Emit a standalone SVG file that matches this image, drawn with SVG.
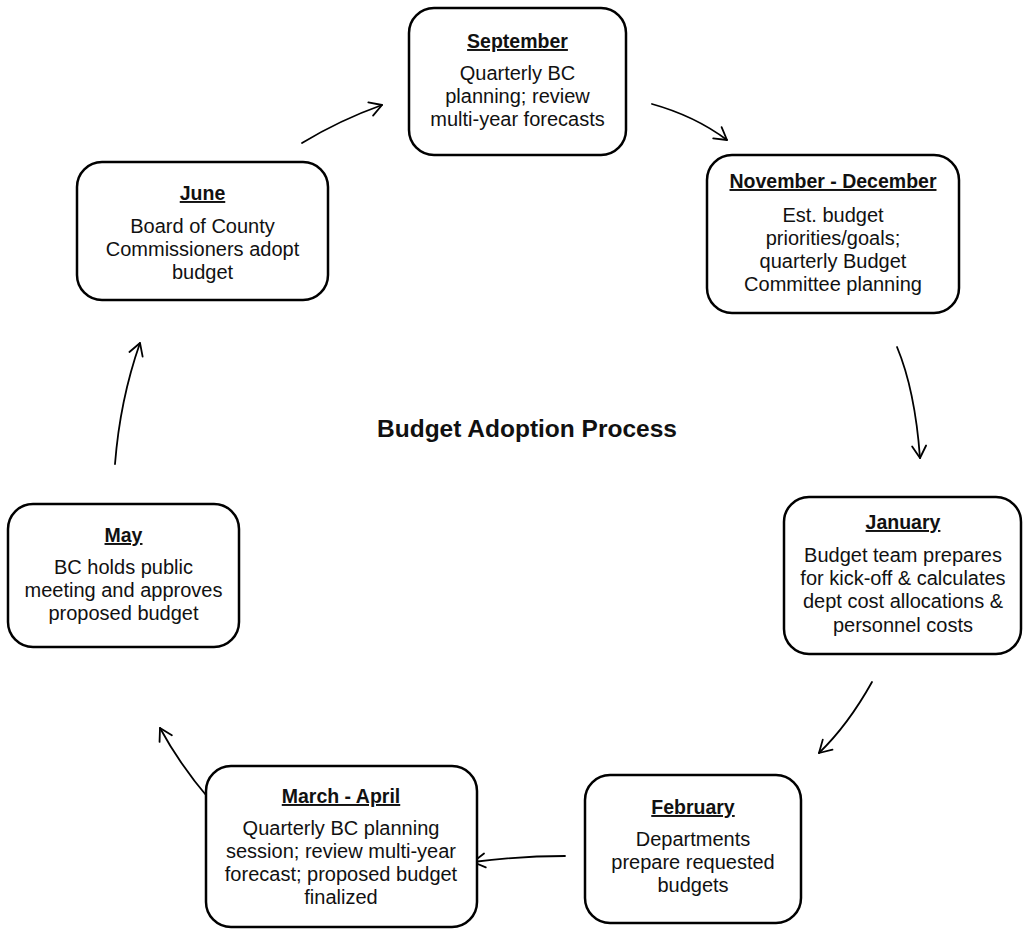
<svg xmlns="http://www.w3.org/2000/svg" width="1026" height="931" viewBox="0 0 1026 931">
<style>
.box{fill:#fff;stroke:#000;stroke-width:2.5}
.t{font-family:"Liberation Sans",Arial,sans-serif;font-size:20px;fill:#111;text-anchor:middle}
.h{font-weight:bold;font-size:19.5px;text-decoration:underline}
.title{font-family:"Liberation Sans",Arial,sans-serif;font-size:24.5px;font-weight:bold;fill:#111;text-anchor:middle}
.c{fill:none;stroke:#000;stroke-width:1.8;stroke-linecap:round}
</style>
<defs>
<marker id="ah" markerUnits="userSpaceOnUse" markerWidth="30" markerHeight="30" refX="0" refY="0" viewBox="-15 -15 30 30" orient="auto">
<path d="M-12,-7 L0,0 L-12,7" fill="none" stroke="#000" stroke-width="1.8" stroke-linecap="round" stroke-linejoin="round"/>
</marker>
</defs>
<rect width="1026" height="931" fill="#fff"/>
<text class="title" x="527" y="437">Budget Adoption Process</text>
<g id="connectors">
<path class="c" d="M302,143 Q340,120 382,105" marker-end="url(#ah)"/>
<path class="c" d="M652,104 Q695,116 727,140" marker-end="url(#ah)"/>
<path class="c" d="M897,347 Q915,390 920,458" marker-end="url(#ah)"/>
<path class="c" d="M872,682 Q848,725 819,753" marker-end="url(#ah)"/>
<path class="c" d="M565,856 Q520,856 473,862" marker-end="url(#ah)"/>
<path class="c" d="M210,800 Q180,765 160,728" marker-end="url(#ah)"/>
<path class="c" d="M115,464 Q120,400 140,343" marker-end="url(#ah)"/>
</g>
<g id="september">
<rect class="box" x="409" y="8" width="217" height="147" rx="25"/>
<text class="t h" x="517.5" y="48">September</text>
<text class="t" x="517.5" y="80">Quarterly BC</text>
<text class="t" x="517.5" y="103">planning; review</text>
<text class="t" x="517.5" y="126">multi-year forecasts</text>
</g>
<g id="novdec">
<rect class="box" x="707" y="155" width="252" height="158" rx="25"/>
<text class="t h" x="833" y="188">November - December</text>
<text class="t" x="833" y="222">Est. budget</text>
<text class="t" x="833" y="245">priorities/goals;</text>
<text class="t" x="833" y="268">quarterly Budget</text>
<text class="t" x="833" y="291">Committee planning</text>
</g>
<g id="january">
<rect class="box" x="784" y="497" width="237" height="157" rx="25"/>
<text class="t h" x="903" y="529">January</text>
<text class="t" x="903" y="562">Budget team prepares</text>
<text class="t" x="903" y="585">for kick-off &amp; calculates</text>
<text class="t" x="903" y="608">dept cost allocations &amp;</text>
<text class="t" x="903" y="632">personnel costs</text>
</g>
<g id="february">
<rect class="box" x="585" y="775" width="216" height="148" rx="25"/>
<text class="t h" x="693" y="814">February</text>
<text class="t" x="693" y="846">Departments</text>
<text class="t" x="693" y="869">prepare requested</text>
<text class="t" x="693" y="892">budgets</text>
</g>
<g id="marchapril">
<rect class="box" x="206" y="766" width="271" height="161" rx="25"/>
<text class="t h" x="341" y="803">March - April</text>
<text class="t" x="341" y="835">Quarterly BC planning</text>
<text class="t" x="341" y="858">session; review multi-year</text>
<text class="t" x="341" y="881">forecast; proposed budget</text>
<text class="t" x="341" y="904">finalized</text>
</g>
<g id="may">
<rect class="box" x="8" y="504" width="231" height="143" rx="25"/>
<text class="t h" x="123.5" y="542">May</text>
<text class="t" x="123.5" y="574">BC holds public</text>
<text class="t" x="123.5" y="597">meeting and approves</text>
<text class="t" x="123.5" y="620">proposed budget</text>
</g>
<g id="june">
<rect class="box" x="77" y="162" width="251" height="138" rx="25"/>
<text class="t h" x="202.5" y="200">June</text>
<text class="t" x="202.5" y="233">Board of County</text>
<text class="t" x="202.5" y="256">Commissioners adopt</text>
<text class="t" x="202.5" y="279">budget</text>
</g>
</svg>
